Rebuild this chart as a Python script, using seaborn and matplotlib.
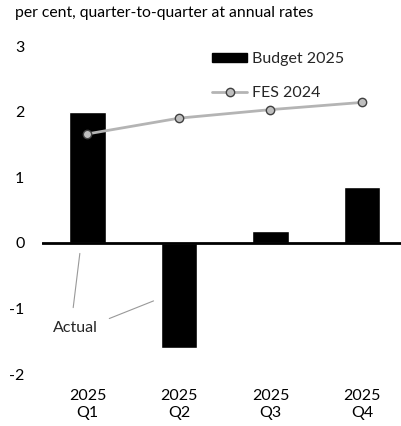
import matplotlib
matplotlib.use("Agg")
import matplotlib.pyplot as plt
from matplotlib.patches import Patch
from matplotlib.lines import Line2D
import seaborn as sns
import pandas as pd

quarters = ["2025\nQ1", "2025\nQ2", "2025\nQ3", "2025\nQ4"]
budget_2025 = [2.0, -1.6, 0.18, 0.85]
fes_2024 = [1.66, 1.90, 2.03, 2.14]

sns.set_theme(style="white")
plt.rcParams["font.family"] = ["Lato", "DejaVu Sans"]

df = pd.DataFrame({"quarter": quarters, "budget": budget_2025, "fes": fes_2024})

fig = plt.figure(figsize=(4.02, 4.26), dpi=100)
ax = fig.add_axes([41.75 / 402, 52 / 426, 1 - 41.75 / 402, (374 - 46) / 426])

sns.barplot(data=df, x="quarter", y="budget", color="black", width=0.4,
            saturation=1, ax=ax, zorder=2)
sns.pointplot(data=df, x="quarter", y="fes", color="#b4b4b4", markers="o",
              markersize=6, markeredgecolor="#404040", markerfacecolor="#bfbfbf",
              markeredgewidth=1.0, linewidth=2, ax=ax, zorder=3)

ax.set_ylim(-2, 3)
ax.set_xlim(-0.5, (402 - 41.75) / 91.5 - 0.5)
ax.axhline(0, color="black", linewidth=2, zorder=4)
for s in ax.spines.values():
    s.set_visible(False)
ax.set_xlabel("")
ax.set_ylabel("")
ax.set_yticks([-2, -1, 0, 1, 2, 3])
ax.set_yticklabels(["-2", "-1", "0", "1", "2", "3"])
ax.tick_params(axis="y", length=0, labelsize=11.5, pad=12.5, labelcolor="black")
ax.tick_params(axis="x", length=0, labelsize=11.5, pad=10.5, labelcolor="black")
for lbl in ax.get_xticklabels():
    lbl.set_linespacing(1.3)

fig.text(15 / 402, 1 - 13 / 426, "per cent, quarter-to-quarter at annual rates",
         fontsize=11.3, va="center", ha="left", color="black")

# "Actual" callout pointing to Q1 and Q2
ax.annotate("", xy=(-0.08, -0.12), xytext=(-0.16, -1.03),
            arrowprops=dict(arrowstyle="-", color="#999999", lw=0.8))
ax.annotate("", xy=(0.75, -0.87), xytext=(0.21, -1.17),
            arrowprops=dict(arrowstyle="-", color="#999999", lw=0.8))
ax.text(-0.38, -1.3, "Actual", fontsize=11.5, ha="left", va="center")

handles = [
    Patch(facecolor="black", edgecolor="black"),
    Line2D([0], [0], color="#b4b4b4", lw=2, marker="o", markersize=6,
           markerfacecolor="#bfbfbf", markeredgecolor="#404040"),
]
leg = ax.legend(handles, ["Budget 2025", "FES 2024"], loc="upper left",
                bbox_to_anchor=(0.455, 1.0), frameon=False, fontsize=11.5,
                handlelength=2.2, handleheight=0.5, handletextpad=0.3,
                labelspacing=1.21, borderaxespad=0)

fig.savefig("out.png", dpi=100)
